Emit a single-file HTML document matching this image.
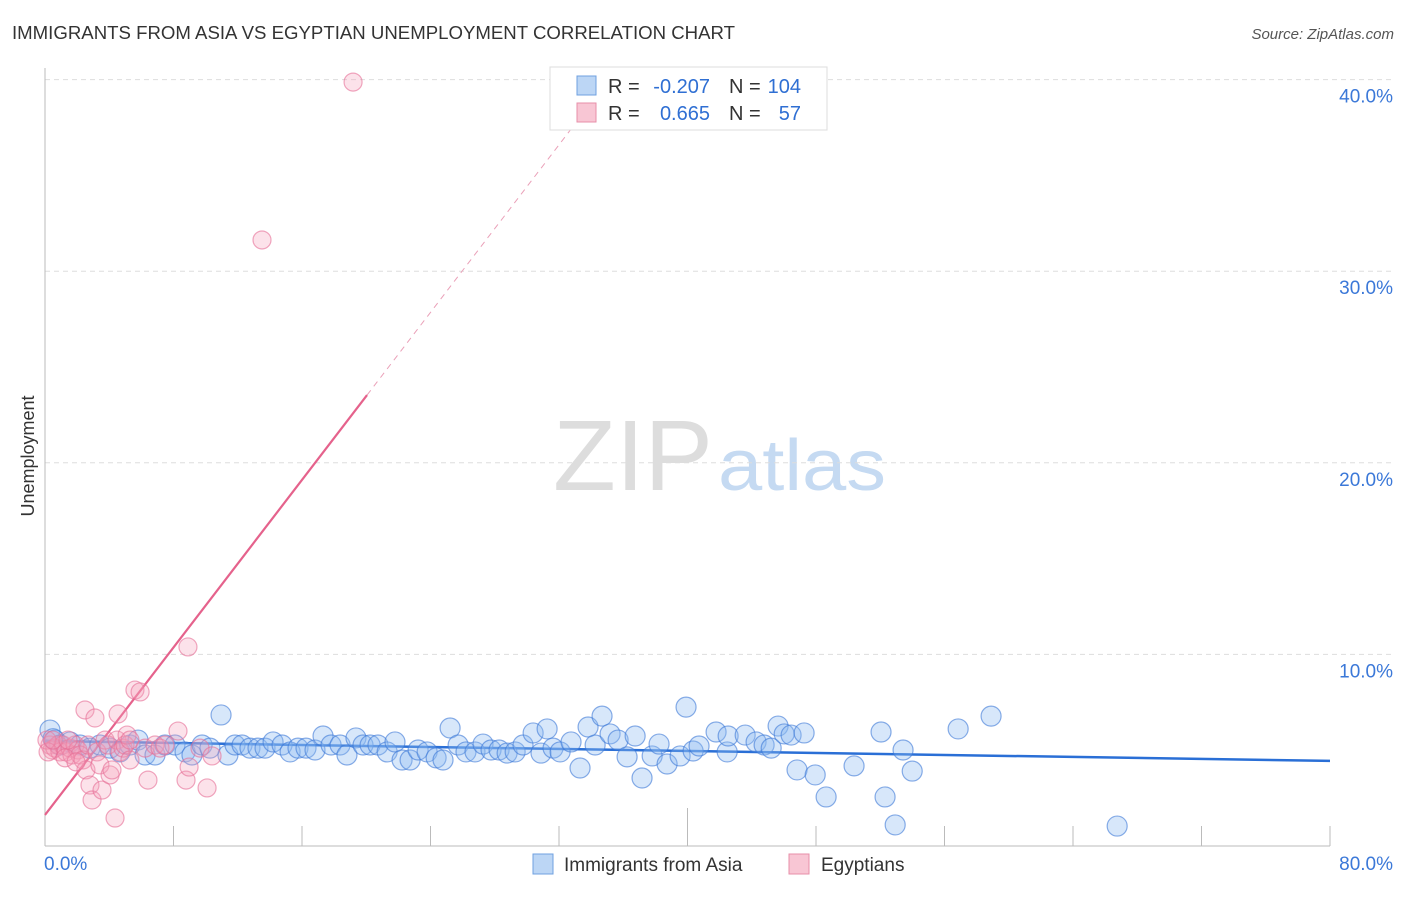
<!DOCTYPE html>
<html><head><meta charset="utf-8"><style>
body{margin:0;background:#fff;font-family:"Liberation Sans",sans-serif;}
svg text{font-family:"Liberation Sans",sans-serif;}
</style></head><body>
<svg id="chart" width="1406" height="892" viewBox="0 0 1406 892" xmlns="http://www.w3.org/2000/svg">
<text x="12" y="39" font-size="18" fill="#333" textLength="723" lengthAdjust="spacingAndGlyphs">IMMIGRANTS FROM ASIA VS EGYPTIAN UNEMPLOYMENT CORRELATION CHART</text>
<text x="1394" y="39" font-size="15" fill="#555" font-style="italic" text-anchor="end">Source: ZipAtlas.com</text>
<g>
<text x="553" y="490" font-size="100" font-family="Liberation Serif,serif" fill="#ddd" textLength="160" lengthAdjust="spacingAndGlyphs">ZIP</text>
<text x="718" y="490" font-size="72" fill="#c5daf2" textLength="168" lengthAdjust="spacingAndGlyphs">atlas</text>
</g>
<g id="grid"></g>
<g id="axes"></g>
<g id="trend"></g>
<g id="pts"></g>
<g>
<rect x="550" y="67" width="277" height="63" fill="#fff" stroke="#ddd"/>
<rect x="577" y="76" width="19" height="19" fill="#bcd6f5" stroke="#6fa0e0"/>
<rect x="577" y="103" width="19" height="19" fill="#f8c6d4" stroke="#e78fa9"/>
<text x="608" y="93" font-size="20" fill="#333">R =</text>
<text x="710" y="93" font-size="20" fill="#2f6fd3" text-anchor="end">-0.207</text>
<text x="729" y="93" font-size="20" fill="#333">N =</text>
<text x="801" y="93" font-size="20" fill="#2f6fd3" text-anchor="end">104</text>
<text x="608" y="120" font-size="20" fill="#333">R =</text>
<text x="710" y="120" font-size="20" fill="#2f6fd3" text-anchor="end">0.665</text>
<text x="729" y="120" font-size="20" fill="#333">N =</text>
<text x="801" y="120" font-size="20" fill="#2f6fd3" text-anchor="end">57</text>
</g>
<text transform="translate(34,456) rotate(-90)" font-size="18" fill="#333" text-anchor="middle">Unemployment</text>
<g>
<rect x="533" y="854" width="20" height="20" fill="#bcd6f5" stroke="#6fa0e0"/>
<text x="564" y="871" font-size="19" fill="#333">Immigrants from Asia</text>
<rect x="789" y="854" width="20" height="20" fill="#f8c6d4" stroke="#e78fa9"/>
<text x="821" y="871" font-size="19" fill="#333">Egyptians</text>
</g>
</svg>
<script>
const asiaX=[0.31,0.62,0.93,1.56,2.18,2.80,3.42,4.05,4.67,5.29,5.79,6.23,6.85,7.47,8.09,8.72,9.15,9.78,10.27,10.96,11.39,11.83,12.27,12.76,13.26,13.70,14.20,14.76,15.26,15.75,16.25,16.81,17.31,17.81,18.37,18.80,19.36,19.80,20.24,20.73,21.30,21.79,22.23,22.73,23.23,23.79,24.35,24.78,25.22,25.72,26.21,26.77,27.27,27.77,28.27,28.77,29.27,29.76,30.39,30.88,31.26,31.63,32.07,32.75,33.31,33.81,34.25,34.68,35.18,35.68,36.24,36.74,37.17,37.80,38.23,38.73,39.54,39.91,40.35,40.72,41.78,42.47,42.53,43.59,44.27,44.77,45.21,45.64,46.02,46.45,46.82,47.26,47.95,48.63,50.37,52.05,52.30,52.93,53.42,53.99,56.85,58.90,66.75,0.5];
const asiaY=[6.05,5.53,5.27,5.43,5.27,5.11,5.27,5.11,4.91,5.27,5.53,4.75,4.75,5.27,5.27,4.91,4.75,5.27,5.11,6.84,4.75,5.27,5.27,5.11,5.11,5.11,5.43,5.27,4.91,5.11,5.11,5.01,5.74,5.27,5.27,4.75,5.64,5.27,5.27,5.27,4.91,5.43,4.49,4.49,5.01,4.91,4.60,4.49,6.16,5.27,4.91,4.91,5.32,5.01,5.01,4.85,4.91,5.27,5.90,4.85,6.11,5.11,4.91,5.43,4.07,6.21,5.27,6.78,5.85,5.53,4.65,5.74,3.55,4.70,5.32,4.28,4.70,7.25,4.96,5.22,5.95,4.91,5.74,5.79,5.43,5.27,5.11,6.26,5.85,5.79,3.97,5.90,3.71,2.56,4.18,5.95,2.56,1.10,5.01,3.91,6.11,6.78,1.04,5.6];
const egyX=[0.31,0.44,0.62,0.81,0.93,1.12,1.31,1.56,1.68,1.87,2.05,2.18,2.37,2.49,2.55,2.68,2.80,2.93,3.11,3.24,3.42,3.55,3.74,3.92,4.05,4.17,4.36,4.48,4.55,4.67,4.86,4.98,5.11,5.29,5.60,5.92,6.23,6.41,6.85,7.16,7.47,8.28,8.78,8.90,8.97,9.65,10.09,10.40,13.51,19.18,0.12,0.19,0.50,1.25,1.43,1.93,5.29];
const egyY=[5.27,5.01,5.11,5.27,4.91,5.27,4.91,5.11,4.75,5.27,5.01,4.75,4.49,7.10,3.97,5.27,3.18,2.40,6.68,4.91,4.23,2.92,5.53,5.27,3.71,3.97,1.46,5.53,6.89,4.91,5.11,5.27,5.79,5.53,8.14,8.04,5.11,3.44,5.27,5.11,5.27,6.00,3.44,10.39,4.12,5.11,3.03,4.70,31.63,39.87,5.53,4.91,5.53,4.60,5.53,4.39,4.49];
const yTicks=[10,20,30,40];
const yTickLabels=["10.0%","20.0%","30.0%","40.0%"];
const xTicks=[0,8,16,24,32,40,48,56,64,72,80];
const asiaTrend=[5.48,4.44];
const egyTrend=[1.62,1.093];
const NS="http://www.w3.org/2000/svg";
const sx=v=>45+v*(1285/80);
const sy=v=>846-v*19.16;
function mk(tag,attrs,parent){const e=document.createElementNS(NS,tag);for(const k in attrs)e.setAttribute(k,attrs[k]);document.getElementById(parent).appendChild(e);return e;}
yTicks.forEach((t,i)=>{
 const l=mk('line',{x1:45,x2:1394,y1:sy(t),y2:sy(t),stroke:'#ddd','stroke-dasharray':'5,4'},'grid');
 
 
 const tx=mk('text',{x:1393,y:sy(t)+23,'font-size':19,fill:'#3b78d8','text-anchor':'end'},'grid');
 tx.textContent=yTickLabels[i];
 
 
});
const ax=mk('line',{x1:45,x2:45,y1:68,y2:846,stroke:'#bbb'},'axes');


const bx=mk('line',{x1:45,x2:1330,y1:846,y2:846,stroke:'#bbb'},'axes');


xTicks.forEach(t=>{
 const tk=mk('line',{x1:sx(t),x2:sx(t),y1:(t===40?808:826),y2:846,stroke:'#bbb'},'axes');
 
 
});
const xl0=mk('text',{x:44,y:870,'font-size':19,fill:'#3b78d8'},'axes');xl0.textContent='0.0%';


const xl1=mk('text',{x:1393,y:870,'font-size':19,fill:'#3b78d8','text-anchor':'end'},'axes');xl1.textContent='80.0%';


asiaX.forEach((x,i)=>{
 const c=mk('circle',{cx:sx(x),cy:sy(asiaY[i]),r:10,fill:'rgba(140,185,240,0.35)',stroke:'rgba(60,120,215,0.6)','stroke-width':1.2},'pts');
 
 
});
egyX.forEach((x,i)=>{
 const c=mk('circle',{cx:sx(x),cy:sy(egyY[i]),r:9,fill:'rgba(245,160,185,0.3)',stroke:'rgba(230,110,150,0.6)','stroke-width':1.2},'pts');
 
 
});
const bt=mk('line',{x1:sx(0),y1:sy(asiaTrend[0]),x2:sx(80),y2:sy(asiaTrend[1]),stroke:'#2a6fd6','stroke-width':2.5},'trend');


const xe=20.05;
const pt=mk('line',{x1:sx(0),y1:sy(egyTrend[0]),x2:sx(xe),y2:sy(egyTrend[0]+egyTrend[1]*xe),stroke:'#e5628c','stroke-width':2.2},'trend');


const xd=(40.5-egyTrend[0])/egyTrend[1];
const pd=mk('line',{x1:sx(xe),y1:sy(egyTrend[0]+egyTrend[1]*xe),x2:sx(xd),y2:sy(40.5),stroke:'#eaa0b8','stroke-width':1,'stroke-dasharray':'6,5'},'trend');


</script>
</body></html>
